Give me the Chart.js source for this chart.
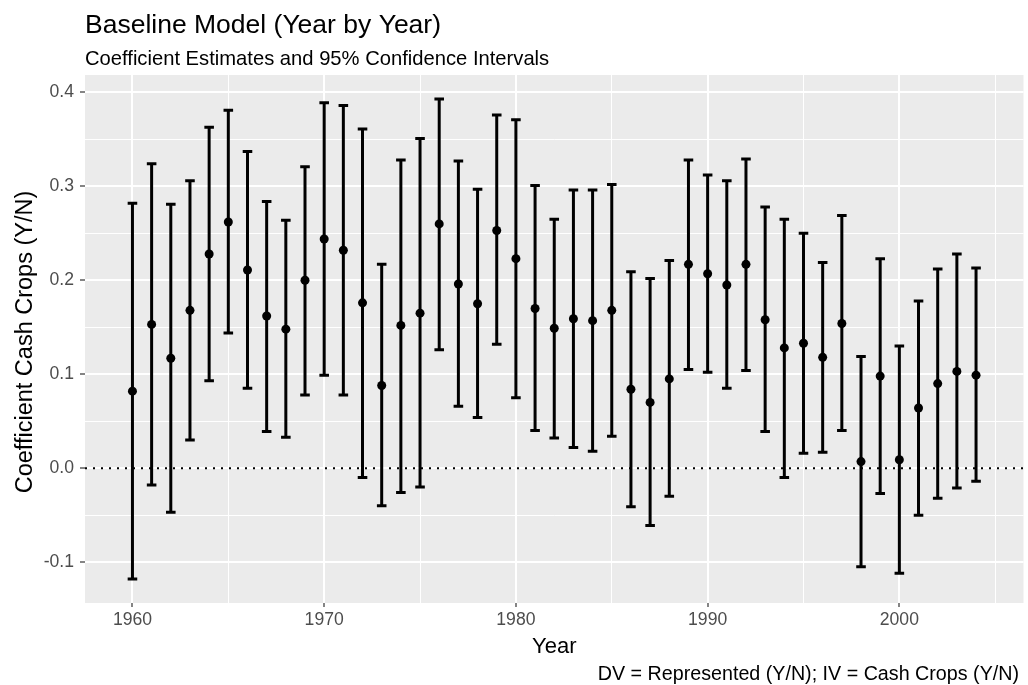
<!DOCTYPE html>
<html>
<head>
<meta charset="utf-8">
<script src="https://cdn.jsdelivr.net/npm/chart.js@4.4.1/dist/chart.umd.min.js"></script>
<style>
  html, body { margin: 0; padding: 0; background: #fff; }
  #wrap { width: 1028px; height: 685px; }
</style>
</head>
<body>
<div id="wrap"><canvas id="chart" width="1028" height="685"></canvas></div>
<script>
/* Year-by-year coefficient plot, ggplot2 look */
'use strict';

const years = [1960, 1961, 1962, 1963, 1964, 1965, 1966, 1967, 1968, 1969,
               1970, 1971, 1972, 1973, 1974, 1975, 1976, 1977, 1978, 1979,
               1980, 1981, 1982, 1983, 1984, 1985, 1986, 1987, 1988, 1989,
               1990, 1991, 1992, 1993, 1994, 1995, 1996, 1997, 1998, 1999,
               2000, 2001, 2002, 2003, 2004];

const estimate = [0.082, 0.153, 0.117, 0.168, 0.228, 0.262, 0.211, 0.162, 0.148, 0.200,
                  0.244, 0.232, 0.176, 0.088, 0.152, 0.165, 0.260, 0.196, 0.175, 0.253,
                  0.223, 0.170, 0.149, 0.159, 0.157, 0.168, 0.084, 0.070, 0.095, 0.217,
                  0.207, 0.195, 0.217, 0.158, 0.128, 0.133, 0.118, 0.154, 0.007, 0.098,
                  0.009, 0.064, 0.090, 0.103, 0.099];

const lower = [-0.118, -0.018, -0.047, 0.030, 0.093, 0.144, 0.085, 0.039, 0.033, 0.078,
               0.099, 0.078, -0.010, -0.040, -0.026, -0.020, 0.126, 0.066, 0.054, 0.132,
               0.075, 0.040, 0.032, 0.022, 0.018, 0.034, -0.041, -0.061, -0.030, 0.105,
               0.102, 0.085, 0.104, 0.039, -0.010, 0.016, 0.017, 0.040, -0.105, -0.027,
               -0.112, -0.050, -0.032, -0.021, -0.014];

const upper = [0.282, 0.324, 0.281, 0.306, 0.363, 0.381, 0.337, 0.284, 0.264, 0.321,
               0.389, 0.386, 0.361, 0.217, 0.328, 0.351, 0.393, 0.327, 0.297, 0.376,
               0.371, 0.301, 0.265, 0.296, 0.296, 0.302, 0.209, 0.202, 0.221, 0.328,
               0.312, 0.306, 0.329, 0.278, 0.265, 0.250, 0.219, 0.269, 0.119, 0.223,
               0.130, 0.178, 0.212, 0.228, 0.213];

const xMajorTicks = [1960, 1970, 1980, 1990, 2000];
const xTickLabels = ['1960', '1970', '1980', '1990', '2000'];
const xMinorTicks = [1965, 1975, 1985, 1995, 2005];
const yMajorTicks = [-0.1, 0, 0.1, 0.2, 0.3, 0.4];
const yTickLabels = ['-0.1', '0.0', '0.1', '0.2', '0.3', '0.4'];
const yMinorTicks = [-0.05, 0.05, 0.15, 0.25, 0.35];

const TITLE = 'Baseline Model (Year by Year)';
const SUBTITLE = 'Coefficient Estimates and 95% Confidence Intervals';
const X_TITLE = 'Year';
const Y_TITLE = 'Coefficient Cash Crops (Y/N)';
const CAPTION = 'DV = Represented (Y/N); IV = Cash Crops (Y/N)';

const FONT = '"Liberation Sans", Arial, Helvetica, sans-serif';
const CAP_HALF = 0.25;   // errorbar width 0.5 year

// ggplot-style limits: data range (incl. errorbar caps) padded by 5%
function expand(lo, hi) {
  const pad = (hi - lo) * 0.05;
  return [lo - pad, hi + pad];
}
const [xMin, xMax] = expand(Math.min(...years) - CAP_HALF, Math.max(...years) + CAP_HALF);
const [yMin, yMax] = expand(Math.min(...lower), Math.max(...upper));

const tickList = (major, minor) =>
  major.concat(minor).sort((a, b) => a - b).map((v) => ({ value: v }));

const gridWidth = (majors) => (c) => (c.tick && majors.includes(c.tick.value) ? 2 : 1);
const tickColor = (majors) => (c) => (c.tick && majors.includes(c.tick.value) ? '#333333' : 'rgba(0,0,0,0)');

const ggLayers = {
  id: 'ggLayers',
  beforeDraw(chart) {
    const { ctx, chartArea: a } = chart;
    ctx.save();
    ctx.fillStyle = '#ffffff';
    ctx.fillRect(0, 0, chart.width, chart.height);
    ctx.fillStyle = '#ebebeb';
    ctx.fillRect(a.left, a.top, a.right - a.left, a.bottom - a.top);
    ctx.restore();
  },
  beforeDatasetsDraw(chart) {
    const { ctx, chartArea: a, scales: { x, y } } = chart;
    ctx.save();
    ctx.beginPath();
    ctx.rect(a.left, a.top, a.right - a.left, a.bottom - a.top);
    ctx.clip();

    // dotted zero line
    const y0 = y.getPixelForValue(0);
    ctx.strokeStyle = '#000';
    ctx.lineWidth = 2;
    ctx.setLineDash([2, 6]);
    ctx.beginPath();
    ctx.moveTo(a.left, y0);
    ctx.lineTo(a.right, y0);
    ctx.stroke();
    ctx.setLineDash([]);

    // error bars
    ctx.lineWidth = 3;
    ctx.lineCap = 'butt';
    years.forEach((yr, i) => {
      const px = x.getPixelForValue(yr);
      const xl = x.getPixelForValue(yr - CAP_HALF);
      const xr = x.getPixelForValue(yr + CAP_HALF);
      const yl = y.getPixelForValue(lower[i]);
      const yu = y.getPixelForValue(upper[i]);
      ctx.beginPath();
      ctx.moveTo(px, yu); ctx.lineTo(px, yl);
      ctx.moveTo(xl, yu); ctx.lineTo(xr, yu);
      ctx.moveTo(xl, yl); ctx.lineTo(xr, yl);
      ctx.stroke();
    });
    ctx.restore();
  },
  afterDraw(chart) {
    const { ctx, chartArea: a } = chart;
    ctx.save();
    ctx.fillStyle = '#000';
    ctx.textBaseline = 'alphabetic';

    ctx.textAlign = 'left';
    ctx.font = `26.5px ${FONT}`;
    ctx.fillText(TITLE, a.left, 33);
    ctx.font = `20.2px ${FONT}`;
    ctx.fillText(SUBTITLE, a.left, 65);

    ctx.textAlign = 'center';
    ctx.font = `22px ${FONT}`;
    ctx.fillText(X_TITLE, (a.left + a.right) / 2, 653);

    ctx.textAlign = 'right';
    ctx.font = `19.7px ${FONT}`;
    ctx.fillText(CAPTION, 1019, 680);

    ctx.translate(32, 342);
    ctx.rotate(-Math.PI / 2);
    ctx.textAlign = 'center';
    ctx.font = `23.5px ${FONT}`;
    ctx.fillText(Y_TITLE, 0, 0);
    ctx.restore();
  },
};

new Chart(document.getElementById('chart').getContext('2d'), {
  type: 'scatter',
  data: {
    datasets: [{
      label: 'Estimate',
      data: years.map((yr, i) => ({ x: yr, y: estimate[i] })),
      pointRadius: 4.5,
      pointHoverRadius: 4.5,
      pointBackgroundColor: '#000',
      pointBorderWidth: 0,
    }],
  },
  options: {
    responsive: false,
    animation: false,
    devicePixelRatio: 1,
    events: [],
    layout: { padding: { top: 75, right: 1, left: 0, bottom: 0 } },
    plugins: { legend: { display: false }, tooltip: { enabled: false } },
    scales: {
      x: {
        type: 'linear',
        min: xMin,
        max: xMax,
        afterBuildTicks: (s) => { s.ticks = tickList(xMajorTicks, xMinorTicks); },
        afterFit: (s) => { s.height = 82; },
        border: { display: false },
        grid: {
          color: '#ffffff',
          lineWidth: gridWidth(xMajorTicks),
          tickColor: tickColor(xMajorTicks),
          tickLength: 4,
          tickWidth: 1.2,
        },
        ticks: {
          autoSkip: false,
          maxRotation: 0,
          padding: 3,
          color: '#4d4d4d',
          font: { family: FONT, size: 17.6 },
          callback: (v) => {
            const k = xMajorTicks.indexOf(v);
            return k >= 0 ? xTickLabels[k] : '';
          },
        },
      },
      y: {
        type: 'linear',
        min: yMin,
        max: yMax,
        afterBuildTicks: (s) => { s.ticks = tickList(yMajorTicks, yMinorTicks); },
        afterFit: (s) => { s.width = 85; },
        border: { display: false },
        grid: {
          color: '#ffffff',
          lineWidth: gridWidth(yMajorTicks),
          tickColor: tickColor(yMajorTicks),
          tickLength: 5,
          tickWidth: 1.2,
        },
        ticks: {
          autoSkip: false,
          padding: 6,
          color: '#4d4d4d',
          font: { family: FONT, size: 17.6 },
          callback: (v) => {
            const k = yMajorTicks.indexOf(v);
            return k >= 0 ? yTickLabels[k] : '';
          },
        },
      },
    },
  },
  plugins: [ggLayers],
});
</script>
</body>
</html>
